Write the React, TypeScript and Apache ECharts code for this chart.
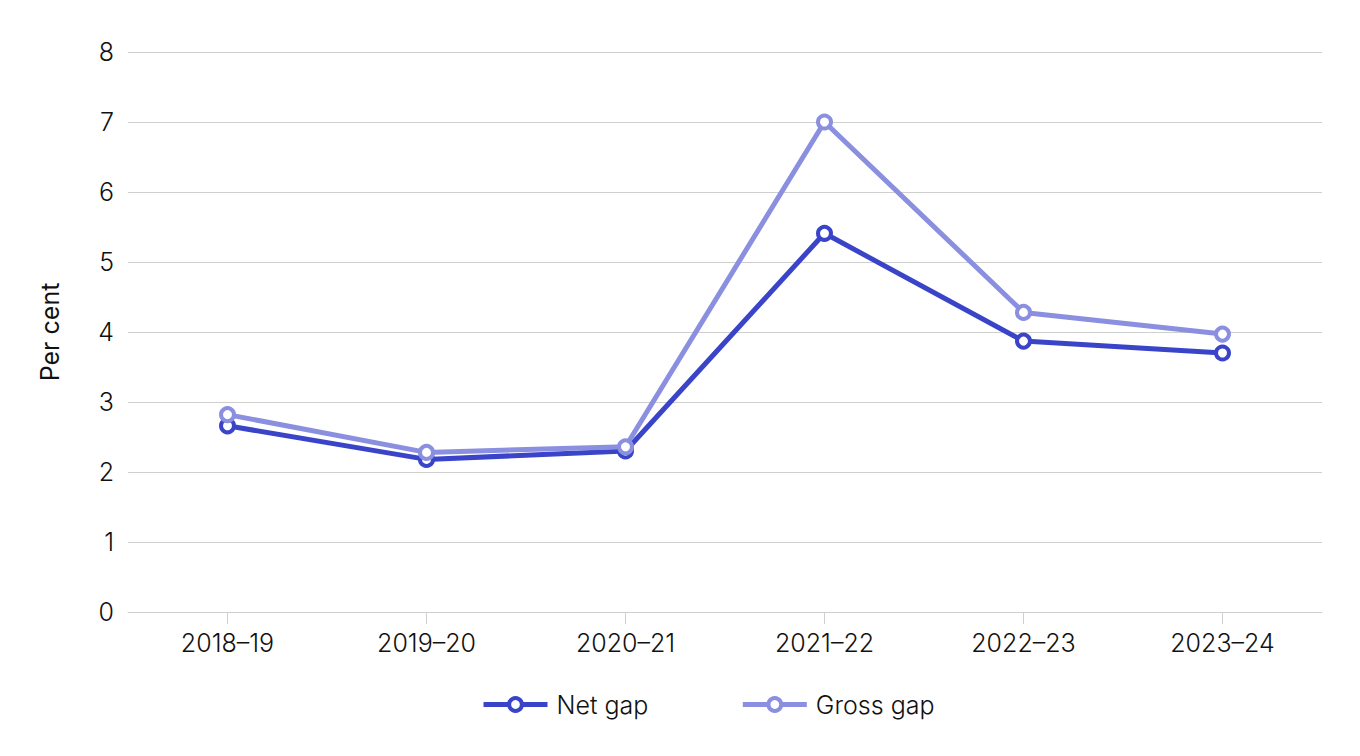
import React, { useEffect, useRef } from "react";
import * as echarts from "echarts";

const categories = ["2018–19", "2019–20", "2020–21", "2021–22", "2022–23", "2023–24"];
const netGap = [2.66, 2.18, 2.3, 5.41, 3.87, 3.7];
const grossGap = [2.82, 2.28, 2.36, 7.0, 4.28, 3.97];
const yTicks = { min: 0, max: 8, interval: 1 };

const NET_COLOR = "#3a44c9";
const GROSS_COLOR = "#8a8fe0";
const FONT = "Inter";
const TEXT_COLOR = "#111111";

export default function App() {
  const ref = useRef<HTMLDivElement>(null);
  useEffect(() => {
    document.body.style.margin = "0";
    const chart = echarts.init(ref.current!, null, { renderer: "svg" });
    const mkSeries = (name: string, data: number[], color: string) => ({
      name,
      type: "line",
      data,
      symbol: "circle",
      symbolSize: 13,
      showSymbol: true,
      lineStyle: { color, width: 5 },
      itemStyle: { color: "#ffffff", borderColor: color, borderWidth: 4 },
      emphasis: { disabled: true },
    });
    chart.setOption({
      animation: false,
      textStyle: { fontFamily: FONT },
      grid: { left: 128, right: 38, top: 52, bottom: 144 },
      legend: {
        bottom: 34,
        left: 476,
        itemWidth: 64,
        itemHeight: 16,
        itemGap: 92,
        lineStyle: { width: 5 },
        itemStyle: { borderWidth: 4 },
        textStyle: { fontSize: 25, fontWeight: 300, color: TEXT_COLOR, fontFamily: FONT, padding: [0, 0, 0, 4] },
        data: ["Net gap", "Gross gap"],
      },
      xAxis: {
        type: "category",
        data: categories,
        boundaryGap: true,
        axisLine: { show: true, lineStyle: { color: "#cfcfcf", width: 1 } },
        axisTick: { show: true, alignWithLabel: true, length: 12, lineStyle: { color: "#cfcfcf" } },
        axisLabel: { fontSize: 25, fontWeight: 300, color: TEXT_COLOR, margin: 18, fontFamily: FONT },
      },
      yAxis: {
        type: "value",
        min: yTicks.min,
        max: yTicks.max,
        interval: yTicks.interval,
        name: "Per cent",
        nameLocation: "middle",
        nameGap: 66,
        nameRotate: 90,
        nameTextStyle: { fontSize: 25, fontWeight: 400, color: TEXT_COLOR, fontFamily: FONT },
        axisLine: { show: false },
        axisTick: { show: false },
        axisLabel: { fontSize: 25, fontWeight: 300, color: TEXT_COLOR, margin: 14, fontFamily: FONT },
        splitLine: { lineStyle: { color: "#cfcfcf", width: 1 } },
      },
      series: [mkSeries("Net gap", netGap, NET_COLOR), mkSeries("Gross gap", grossGap, GROSS_COLOR)],
    });
    return () => chart.dispose();
  }, []);
  return <div ref={ref} style={{ width: 1360, height: 756 }} />;
}
